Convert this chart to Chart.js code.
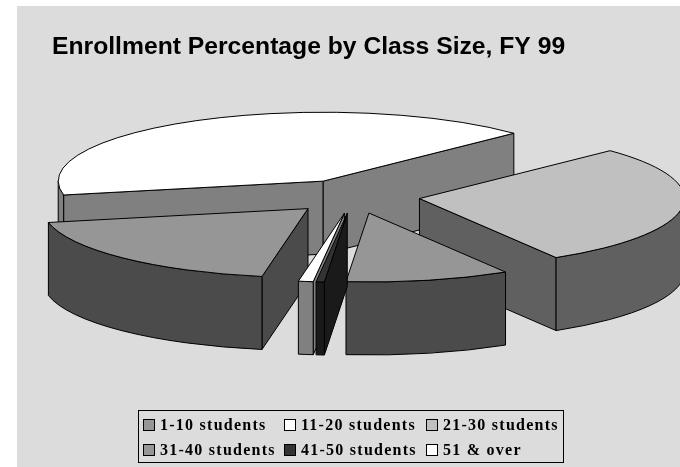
<!DOCTYPE html>
<html>
<head>
<meta charset="utf-8">
<title>Enrollment Percentage by Class Size, FY 99</title>
<script src="https://cdn.jsdelivr.net/npm/chart.js@4/dist/chart.umd.min.js"></script>
<style>
    html, body { margin: 0; padding: 0; background: #ffffff; }
    canvas { display: block; }
</style>
</head>
<body>
<canvas id="enrollmentChart" width="680" height="467"></canvas>
<script>
// Chart data
const categories = ["1-10 students", "11-20 students", "21-30 students", "31-40 students", "41-50 students", "51 & over"];
const percentages = [19, 41, 28.6, 10, 0.5, 0.9];
const sliceColors = ["#969696", "#ffffff", "#c0c0c0", "#969696", "#333333", "#ffffff"];
const chartTitle = "Enrollment Percentage by Class Size, FY 99";

const tilt = 0.26;       // squash of the pie, height / width
const wallHeight = 73;
const explode = 66;      // how far each slice is pulled from the centre

// Darker colour for the sides of a slice
function shade(hex) {
    const n = parseInt(hex.slice(1), 16);
    const half = (v) => Math.round(v * 0.5);
    return `rgb(${half(n >> 16)},${half((n >> 8) & 255)},${half(n & 255)})`;
}

// Grey panel behind the chart
const panelPlugin = {
    id: "panel",
    beforeDraw(chart) {
        const ctx = chart.ctx;
        ctx.save();
        ctx.fillStyle = "#dcdcdc";
        ctx.fillRect(17, 6, chart.width - 17, chart.height - 6);
        ctx.restore();
    }
};

// Draws the arcs of the pie as a tilted, exploded 3D pie
const pie3dPlugin = {
    id: "pie3d",
    beforeDatasetsDraw(chart) {
        const ctx = chart.ctx;
        const arcs = chart.getDatasetMeta(0).data;

        const slices = arcs.map((arc) => {
            const { startAngle, endAngle, outerRadius, x, y } = arc.getProps(["startAngle", "endAngle", "outerRadius", "x", "y"], true);
            const mid = (startAngle + endAngle) / 2;
            return {
                start: startAngle,
                end: endAngle,
                radius: outerRadius,
                x: x + Math.cos(mid) * explode,
                y: y + Math.sin(mid) * explode * tilt,
                depth: Math.sin(mid),
                color: arc.options.backgroundColor
            };
        });

        // back to front
        slices.sort((a, b) => a.depth - b.depth);

        ctx.save();
        ctx.strokeStyle = "#000000";
        ctx.lineWidth = 1;
        ctx.lineJoin = "round";
        slices.forEach((s) => drawSlice(ctx, s));
        ctx.restore();
        return false;
    }
};

function drawSlice(ctx, s) {
    const side = shade(s.color);
    const ry = s.radius * tilt;

    // cut wall from the apex to the rim at one angle
    const cutWall = (angle) => {
        ctx.beginPath();
        ctx.moveTo(s.x, s.y);
        ctx.lineTo(s.x + Math.cos(angle) * s.radius, s.y + Math.sin(angle) * ry);
        ctx.lineTo(s.x + Math.cos(angle) * s.radius, s.y + Math.sin(angle) * ry + wallHeight);
        ctx.lineTo(s.x, s.y + wallHeight);
        ctx.closePath();
        ctx.fillStyle = side;
        ctx.fill();
        ctx.stroke();
    };

    if (Math.cos(s.start) < 0) cutWall(s.start);
    if (Math.cos(s.end) > 0) cutWall(s.end);

    // rim wall, only the part on the front half of the ellipse
    for (const turn of [0, Math.PI * 2]) {
        const from = Math.max(s.start, turn);
        const to = Math.min(s.end, turn + Math.PI);
        if (to <= from) continue;
        ctx.beginPath();
        ctx.ellipse(s.x, s.y, s.radius, ry, 0, from, to);
        ctx.ellipse(s.x, s.y + wallHeight, s.radius, ry, 0, to, from, true);
        ctx.closePath();
        ctx.fillStyle = side;
        ctx.fill();
        ctx.stroke();
    }

    // top face
    ctx.beginPath();
    ctx.moveTo(s.x, s.y);
    ctx.ellipse(s.x, s.y, s.radius, ry, 0, s.start, s.end);
    ctx.closePath();
    ctx.fillStyle = s.color;
    ctx.fill();
    ctx.stroke();
}

// Boxed legend, three columns by two rows
const legendPlugin = {
    id: "gridLegend",
    afterDraw(chart) {
        const ctx = chart.ctx;
        const columns = [143, 284, 426];
        const rows = [419, 444];

        ctx.save();
        ctx.strokeStyle = "#000000";
        ctx.lineWidth = 1;
        ctx.strokeRect(138.5, 410.5, 425, 52);

        ctx.font = "bold 16px 'Liberation Serif'";
        ctx.letterSpacing = "1.25px";
        ctx.textBaseline = "alphabetic";
        categories.forEach((label, i) => {
            const bx = columns[i % 3];
            const by = rows[Math.floor(i / 3)];
            ctx.fillStyle = sliceColors[i];
            ctx.fillRect(bx + 0.5, by + 0.5, 11, 11);
            ctx.strokeRect(bx + 0.5, by + 0.5, 11, 11);
            ctx.fillStyle = "#000000";
            ctx.fillText(label, bx + 17, by + 11);
        });
        ctx.restore();
    }
};

const ctx = document.getElementById("enrollmentChart").getContext("2d");
const enrollmentChart = new Chart(ctx, {
    type: "pie",
    data: {
        labels: categories,
        datasets: [{
            label: "Enrollment %",
            data: percentages,
            backgroundColor: sliceColors,
            borderColor: "#000000",
            borderWidth: 1
        }]
    },
    options: {
        responsive: false,
        animation: false,
        rotation: 190,
        radius: 265,
        layout: { padding: { left: 52, right: 24, top: 32, bottom: 136 } },
        plugins: {
            legend: { display: false },
            tooltip: { enabled: false },
            title: {
                display: true,
                text: chartTitle,
                align: "start",
                color: "#000000",
                font: { family: "'Liberation Sans'", size: 24.7, weight: "bold" },
                padding: { top: 0, bottom: 0 }
            }
        }
    },
    plugins: [panelPlugin, pie3dPlugin, legendPlugin]
});
</script>
</body>
</html>
